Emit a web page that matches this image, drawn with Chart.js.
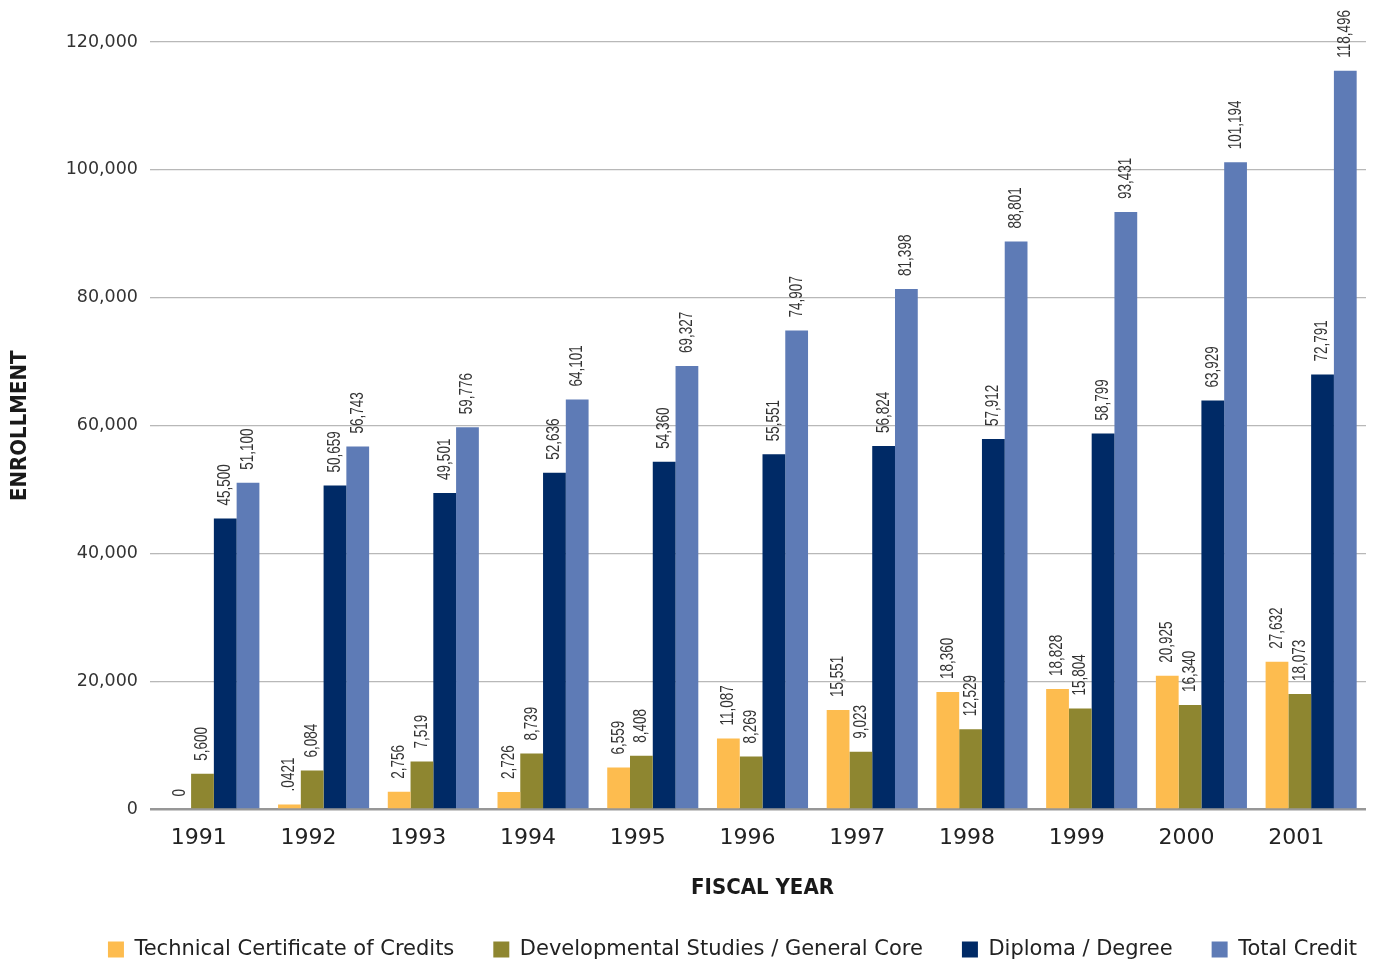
<!DOCTYPE html>
<html>
<head>
<meta charset="utf-8">
<script src="https://cdn.jsdelivr.net/npm/chart.js@4.4.1/dist/chart.umd.min.js"></script>
<style>
  html, body { margin: 0; padding: 0; background: #ffffff; }
  #wrap { width: 1375px; height: 966px; }
</style>
</head>
<body>
<div id="wrap"><canvas id="chart" width="1375" height="966"></canvas></div>
<script>
// ---- data ----
const fiscalYears = ['1991','1992','1993','1994','1995','1996','1997','1998','1999','2000','2001'];
const seriesNames = ['Technical Certificate of Credits','Developmental Studies / General Core','Diploma / Degree','Total Credit'];

// bar heights
const technicalCertificate = [0, 800, 2756, 2726, 6559, 11087, 15551, 18360, 18828, 20925, 23100];
const developmentalStudies = [5600, 6084, 7519, 8739, 8408, 8269, 9023, 12529, 15804, 16340, 18073];
const diplomaDegree        = [45500, 50659, 49501, 52636, 54360, 55551, 56824, 57912, 58799, 63929, 68000];
const totalCredit          = [51100, 56743, 59776, 64101, 69327, 74907, 81398, 88801, 93431, 101194, 115500];

// value labels printed above the bars
const technicalCertificateLabels = ['0','.0421','2,756','2,726','6,559','11,087','15,551','18,360','18,828','20,925','27,632'];
const developmentalStudiesLabels = ['5,600','6,084','7,519','8,739','8,408','8,269','9,023','12,529','15,804','16,340','18,073'];
const diplomaDegreeLabels        = ['45,500','50,659','49,501','52,636','54,360','55,551','56,824','57,912','58,799','63,929','72,791'];
const totalCreditLabels          = ['51,100','56,743','59,776','64,101','69,327','74,907','81,398','88,801','93,431','101,194','118,496'];

const yTickValues = [0, 20000, 40000, 60000, 80000, 100000, 120000];
const yAxisTitle = 'ENROLLMENT';
const xAxisTitle = 'FISCAL YEAR';

const seriesColors = ['#FDBC4F', '#8E8630', '#002A66', '#5E7BB6'];
const seriesValues = [technicalCertificate, developmentalStudies, diplomaDegree, totalCredit];
const seriesLabels = [technicalCertificateLabels, developmentalStudiesLabels, diplomaDegreeLabels, totalCreditLabels];

const CONDENSED = "'DejaVu Sans Condensed', 'Liberation Sans Narrow', sans-serif";
const GROTESK = "'Liberation Sans', Arial, sans-serif";
const WIDE = "'DejaVu Sans', Verdana, sans-serif";

// ---- plugins ----
const barValueLabels = {
  id: 'barValueLabels',
  afterDatasetsDraw(chart) {
    const ctx = chart.ctx;
    ctx.save();
    ctx.font = "18px " + GROTESK;
    ctx.fillStyle = '#333333';
    ctx.textAlign = 'left';
    ctx.textBaseline = 'middle';
    chart.data.datasets.forEach((ds, di) => {
      const meta = chart.getDatasetMeta(di);
      meta.data.forEach((bar, i) => {
        const txt = ds.valueLabels[i];
        ctx.save();
        ctx.translate(bar.x, bar.y - 13);
        ctx.rotate(-Math.PI / 2);
        ctx.scale(0.75, 1);   // condensed lettering
        ctx.fillText(txt, 0, 0);
        ctx.restore();
      });
    });
    ctx.restore();
  }
};

const legendPlacement = {
  id: 'legendPlacement',
  afterLayout(chart) {
    const lg = chart.legend;
    if (!lg) return;
    lg.left += 30; lg.right += 30;
    lg.top += 4; lg.bottom += 4;
  }
};

// ---- chart ----
new Chart(document.getElementById('chart'), {
  type: 'bar',
  data: {
    labels: fiscalYears,
    datasets: seriesNames.map((name, i) => ({
      label: name,
      data: seriesValues[i],
      valueLabels: seriesLabels[i],
      backgroundColor: seriesColors[i],
      borderWidth: 0,
      categoryPercentage: 0.83,
      barPercentage: 1.0
    }))
  },
  options: {
    responsive: false,
    animation: false,
    devicePixelRatio: 1,
    layout: { padding: { top: 42, right: 9, bottom: 0, left: 0 } },
    plugins: {
      tooltip: { enabled: false },
      legend: {
        position: 'bottom',
        align: 'end',
        labels: {
          boxWidth: 16,
          boxHeight: 16,
          padding: 39,
          color: '#222222',
          font: { family: WIDE, size: 21 }
        }
      }
    },
    scales: {
      x: {
        grid: { display: false },
        border: { display: false },
        ticks: {
          color: '#222222',
          font: { family: WIDE, size: 22 },
          padding: 8,
          labelOffset: -15,
          maxRotation: 0
        },
        title: {
          display: true,
          text: xAxisTitle,
          color: '#1a1a1a',
          font: { family: CONDENSED, size: 22, weight: 'bold', lineHeight: '15px' },
          padding: 0
        },
        afterFit(scale) { scale.height = 86.5; }
      },
      y: {
        min: 0,
        max: 120000,
        afterBuildTicks(scale) { scale.ticks = yTickValues.map(v => ({ value: v })); },
        grid: {
          color: (c) => (c.tick && c.tick.value === 0) ? '#979797' : '#b8b8b8',
          lineWidth: (c) => (c.tick && c.tick.value === 0) ? 2.5 : 1.3,
          tickLength: 9,
          drawTicks: true
        },
        border: { display: false },
        ticks: {
          color: '#333333',
          font: { family: WIDE, size: 17.5 },
          padding: 12,
          callback: (v) => Number(v).toLocaleString('en-US')
        },
        title: {
          display: true,
          text: yAxisTitle,
          color: '#1a1a1a',
          font: { family: CONDENSED, size: 22, weight: 'bold', lineHeight: '20px' },
          padding: { top: 10, bottom: 0 }
        },
        afterFit(scale) { scale.width = 159; }
      }
    }
  },
  plugins: [barValueLabels, legendPlacement]
});
</script>
</body>
</html>
